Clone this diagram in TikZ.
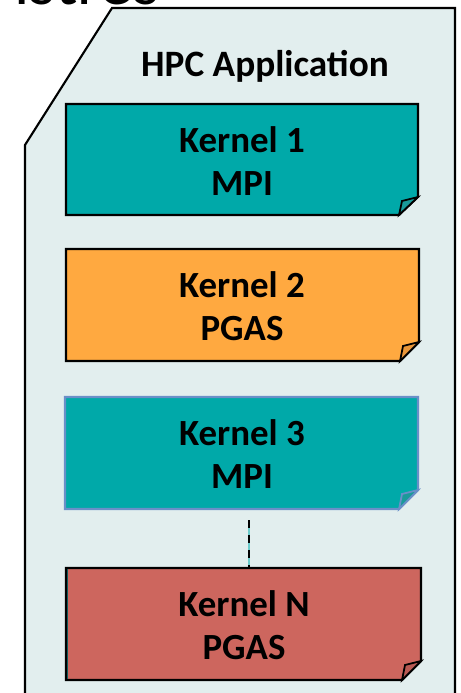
\documentclass[tikz,border=0pt]{standalone}
\usepackage{fontspec}
\setmainfont{Carlito}
\definecolor{bgpanel}{HTML}{E2EEEE}
\definecolor{tealk}{HTML}{00A9A9}
\definecolor{tealflap}{HTML}{1A9A9A}
\definecolor{orangek}{HTML}{FFA940}
\definecolor{orangeflap}{HTML}{E8963A}
\definecolor{redk}{HTML}{CD665E}
\definecolor{redflap}{HTML}{B85A54}
\definecolor{bluek}{HTML}{6A8FC8}
\definecolor{dashgap}{HTML}{6CCCCC}
\tikzset{
  panel/.style={fill=bgpanel, draw=black, line width=1.2pt, line join=miter},
  kbox/.style={line width=1.2pt, line join=miter},
  ktext/.style={font=\bfseries\fontsize{21}{24.4}\selectfont, align=center, text=black, inner sep=0pt},
  htext/.style={font=\bfseries\fontsize{21.2}{24}\selectfont, text=black, inner sep=0pt},
}
\begin{document}
\begin{tikzpicture}[x=0.02cm, y=-0.02cm]
\useasboundingbox (0,0) rectangle (460,693);
% partial title at top
\node[anchor=base west, inner sep=0pt, font=\fontsize{38}{40}\selectfont] (title) at (14,5) {istres};
% outer panel
\draw[panel] (25,700) -- (25,145) -- (112,8) -- (455,8) -- (455,700);
\node[htext] (hpc) at (265,66) {HPC Application};
% Kernel 1
\draw[kbox, fill=tealk, draw=black] (66,104) -- (418,104) -- (418,197) -- (399,215) -- (66,215) -- cycle;
\draw[kbox, fill=tealflap, draw=black, line width=1pt] (418,197) -- (402,201) -- (399,215) -- cycle;
\node[ktext] (k1) at (242,161) {Kernel 1\\MPI};
% Kernel 2
\draw[kbox, fill=orangek, draw=black] (66,249) -- (419,249) -- (419,342) -- (400,361) -- (66,361) -- cycle;
\draw[kbox, fill=orangeflap, draw=black, line width=1pt] (419,342) -- (403,346) -- (400,361) -- cycle;
\node[ktext] (k2) at (242,306) {Kernel 2\\PGAS};
% Kernel 3
\draw[kbox, fill=tealk, draw=bluek] (65,397) -- (418,397) -- (418,490) -- (399,509) -- (65,509) -- cycle;
\draw[kbox, fill=tealflap, draw=bluek, line width=1pt] (418,490) -- (402,494) -- (399,509) -- cycle;
\node[ktext] (k3) at (242,454) {Kernel 3\\MPI};
% Kernel N
\draw[kbox, fill=redk, draw=black] (66,568) -- (421,568) -- (421,661) -- (402,680) -- (66,680) -- cycle;
\draw[kbox, fill=redflap, draw=black, line width=1pt] (421,661) -- (405,665) -- (402,680) -- cycle;
\draw[tealflap!60!black, line width=0.8pt] (67.5,569) -- (67.5,679);
\node[ktext] (kn) at (244,625) {Kernel N\\PGAS};
% dashed connector
\coordinate (d1) at (249,520);
\coordinate (d2) at (249,567);
\draw[dashgap, line width=1.1pt] (d1) -- (d2);
\draw[black, line width=1.1pt, dash pattern=on 4.8pt off 3.7pt] (d1) -- (d2);
\end{tikzpicture}
\end{document}
